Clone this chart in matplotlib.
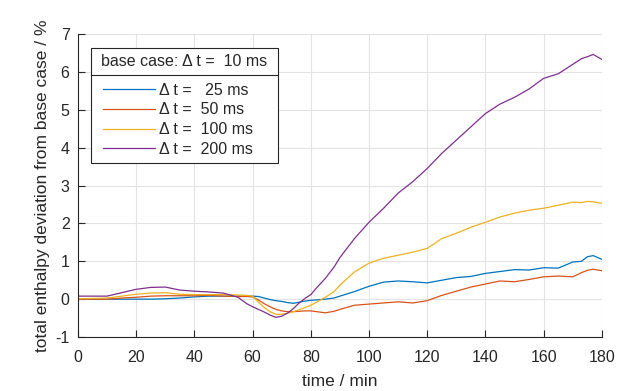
import matplotlib
matplotlib.use("Agg")
import matplotlib.pyplot as plt
from matplotlib.lines import Line2D
from matplotlib.legend_handler import HandlerLine2D

plt.rcParams['font.family'] = ['Liberation Sans', 'DejaVu Sans']
plt.rcParams['axes.unicode_minus'] = False

t = [0, 5, 10, 15, 20, 25, 30, 35, 40, 45, 50, 55, 58, 60, 62, 64, 66, 68, 70, 72, 74, 76, 78,
     80, 82, 85, 88, 90, 95, 100, 105, 110, 115, 120, 125, 130, 135, 140, 145, 150, 155, 160,
     165, 170, 173, 175, 177, 180]

dt25 = [0.0, 0.0, 0.0, 0.0, 0.0, 0.0, 0.01, 0.03, 0.06, 0.08, 0.08, 0.08, 0.08, 0.08, 0.07, 0.03,
        -0.01, -0.04, -0.06, -0.09, -0.11, -0.08, -0.05, -0.03, -0.02, 0.0, 0.03, 0.08, 0.2, 0.34,
        0.45, 0.48, 0.46, 0.43, 0.5, 0.57, 0.6, 0.68, 0.73, 0.78, 0.77, 0.83, 0.82, 0.98, 1.0, 1.12,
        1.15, 1.05]
dt50 = [0.0, 0.0, 0.0, 0.03, 0.05, 0.08, 0.09, 0.09, 0.09, 0.1, 0.08, 0.07, 0.07, 0.06, -0.02, -0.12,
        -0.2, -0.27, -0.31, -0.33, -0.33, -0.32, -0.31, -0.31, -0.33, -0.36, -0.32, -0.27, -0.16, -0.13,
        -0.1, -0.07, -0.1, -0.04, 0.1, 0.21, 0.32, 0.4, 0.48, 0.46, 0.52, 0.59, 0.61, 0.59, 0.7, 0.76,
        0.79, 0.75]
dt100 = [0.01, 0.02, 0.03, 0.08, 0.13, 0.16, 0.17, 0.13, 0.12, 0.12, 0.12, 0.11, 0.1, 0.08, -0.08, -0.22,
         -0.33, -0.4, -0.4, -0.37, -0.33, -0.28, -0.22, -0.16, -0.08, 0.05, 0.2, 0.37, 0.72, 0.95,
         1.08, 1.16, 1.24, 1.34, 1.6, 1.74, 1.9, 2.03, 2.17, 2.27, 2.35, 2.4, 2.48, 2.56, 2.55, 2.58,
         2.57, 2.53]
dt200 = [0.08, 0.08, 0.08, 0.17, 0.26, 0.31, 0.32, 0.24, 0.21, 0.19, 0.16, 0.05, -0.12, -0.2, -0.27, -0.34,
         -0.42, -0.48, -0.45, -0.37, -0.25, -0.1, 0.02, 0.12, 0.3, 0.55, 0.85, 1.1, 1.6, 2.03,
         2.4, 2.8, 3.1, 3.45, 3.85, 4.2, 4.55, 4.9, 5.15, 5.33, 5.55, 5.83, 5.95, 6.2, 6.35, 6.4,
         6.46, 6.33]

labels = ["\u0394 t =   25 ms", "\u0394 t =  50 ms", "\u0394 t =  100 ms", "\u0394 t =  200 ms"]
legend_title = "base case: \u0394 t =  10 ms"
colors = ["#0072BD", "#D95319", "#EDB120", "#7E2F8E"]
xticks = list(range(0, 181, 20))
yticks = list(range(-1, 8))

fig = plt.figure(figsize=(6.26, 3.91), dpi=100)
ax = fig.add_axes([0.1245, 0.138, 0.837, 0.775])

for s, lab, c in zip([dt25, dt50, dt100, dt200], labels, colors):
    ax.plot(t, s, color=c, lw=0.9, label=lab)

ax.set_xlim(0, 180)
ax.set_ylim(-1, 7)
ax.set_xticks(xticks)
ax.set_yticks(yticks)
ax.grid(True, color="#e3e3e3", lw=0.8)
ax.set_axisbelow(True)
dark = "#262626"
for side in ["top", "right"]:
    ax.spines[side].set_visible(False)
for side in ["left", "bottom"]:
    ax.spines[side].set_color(dark)
    ax.spines[side].set_linewidth(0.8)
ax.tick_params(direction="in", length=5, width=0.8, colors=dark, labelsize=11.5)
ax.tick_params(axis="x", pad=9)
ax.tick_params(axis="y", pad=6)
ax.set_xlabel("time / min", fontsize=12.5, color=dark, labelpad=6.5)
ax.set_ylabel("total enthalpy deviation from base case / %", fontsize=12.5, color=dark, labelpad=4)

leg = ax.legend(loc="upper left", bbox_to_anchor=(0.025, 0.954, 0.356, 0.0), mode="expand",
                fontsize=11.5, title=legend_title,
                title_fontsize=11.5, frameon=True, fancybox=False, framealpha=1,
                edgecolor=dark, handlelength=3.6, handletextpad=0.25, borderpad=0.4,
                labelspacing=0.3, borderaxespad=0,
                handler_map={Line2D: HandlerLine2D(xpad=0.375)})
leg.get_frame().set_linewidth(0.8)
for txt in leg.get_texts():
    txt.set_color(dark)
leg.get_title().set_color(dark)
leg._legend_box.sep = 9.5

fig.canvas.draw()
r = fig.canvas.get_renderer()
fb = leg.get_frame().get_window_extent(r)
tb = leg.get_title().get_window_extent(r)
eb = leg.get_texts()[0].get_window_extent(r)
ysep = 0.5 * ((tb.y0 + tb.y1) / 2 + (eb.y0 + eb.y1) / 2) + 1
inv = fig.transFigure.inverted()
(x0, y0) = inv.transform((fb.x0, ysep))
(x1, _) = inv.transform((fb.x1, ysep))
fig.add_artist(Line2D([x0, x1], [y0, y0], color=dark, lw=0.8, transform=fig.transFigure))

fig.savefig("out.png", dpi=100)
